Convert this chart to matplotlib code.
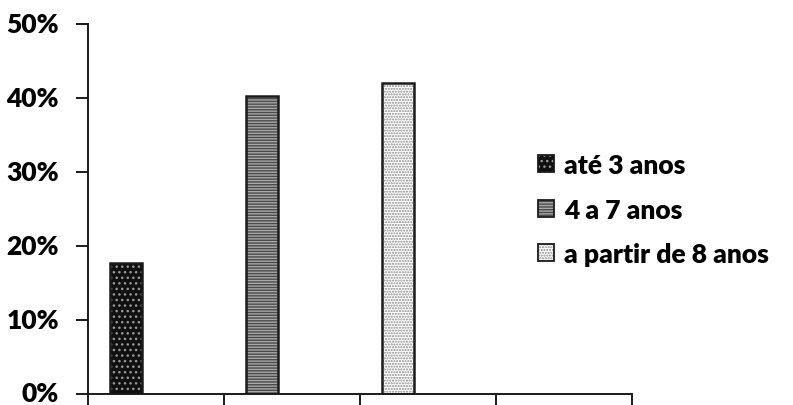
import matplotlib
matplotlib.use("Agg")
import matplotlib.pyplot as plt
from matplotlib.patches import Patch
from matplotlib.legend_handler import HandlerTuple
from matplotlib.ticker import FuncFormatter

plt.rcParams['font.family'] = ['Lato', 'DejaVu Sans']
plt.rcParams['hatch.linewidth'] = 1.0

categories = ["até 3 anos", "4 a 7 anos", "a partir de 8 anos"]
values = [17.6, 40.3, 42.0]
y_ticks = [0, 10, 20, 30, 40, 50]
n_slots = 4

# fill, hatch pattern and hatch colour for each group
fills = ["#101010", "#a8a8a8", "#ffffff"]
hatches = ["...", "------", "......"]
hatch_cols = ["#9a9a9a", "#4a4a4a", "#8a8a8a"]

fig = plt.figure(figsize=(7.93, 4.06), dpi=100)
ax = fig.add_axes([88 / 793, 11.5 / 406, (632 - 88) / 793, (394.5 - 25) / 406])

bar_w = 0.233
offset = -0.22
handles = []
for i, (v, fc, h, hc) in enumerate(zip(values, fills, hatches, hatch_cols)):
    x = i + offset
    ax.bar(x, v, width=bar_w, color=fc, hatch=h, edgecolor=hc, linewidth=0, zorder=2)
    ax.bar(x, v, width=bar_w, facecolor="none", edgecolor="#1a1a1a", linewidth=1.8, zorder=3)
    handles.append((Patch(facecolor=fc, hatch=h, edgecolor=hc, linewidth=0),
                    Patch(facecolor="none", edgecolor="#1a1a1a", linewidth=1.3)))

ax.set_xlim(-0.5, n_slots - 0.5)
ax.set_ylim(0, 50)
ax.set_yticks(y_ticks)
ax.yaxis.set_major_formatter(FuncFormatter(lambda v, p: f"{int(v)}%"))
ax.set_xticks([k - 0.5 for k in range(n_slots + 1)])
ax.set_xticklabels([])
for s in ("top", "right"):
    ax.spines[s].set_visible(False)
for s in ("left", "bottom"):
    ax.spines[s].set_linewidth(1.4)
    ax.spines[s].set_color("#1a1a1a")
ax.tick_params(axis="both", direction="out", length=9, width=1.4, color="#1a1a1a")
ax.tick_params(axis="y", labelsize=19, pad=12)
for lbl in ax.get_yticklabels():
    lbl.set_fontweight("heavy")
    lbl.set_verticalalignment("center")

leg = fig.legend(handles, categories, handler_map={tuple: HandlerTuple(ndivide=1)},
                 loc="upper left", bbox_to_anchor=(538 / 793, 1 - 154 / 406),
                 frameon=False, prop={"size": 19, "weight": "heavy"},
                 handlelength=0.62, handleheight=0.62, handletextpad=0.38,
                 labelspacing=0.78, borderaxespad=0, borderpad=0)

fig.savefig("out.png", dpi=100)
